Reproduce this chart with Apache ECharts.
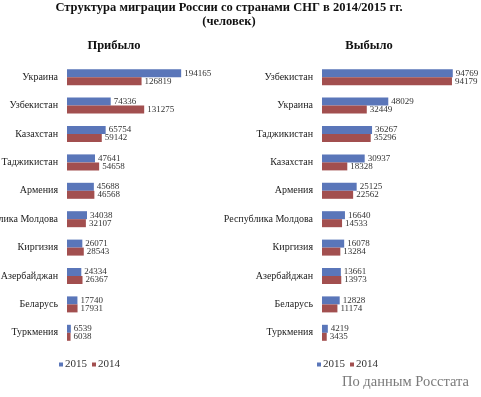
<!DOCTYPE html>
<html>
<head>
<meta charset="utf-8">
<script src="https://cdn.jsdelivr.net/npm/echarts@6/dist/echarts.min.js"></script>
<style>
  html, body { margin: 0; padding: 0; background: #fff; }
  #chart { width: 481px; height: 397px; }
</style>
</head>
<body>
<div id="chart"></div>
<script>
// Прибыло
const arrivedCountries = ["Украина", "Узбекистан", "Казахстан", "Таджикистан", "Армения",
  "Республика Молдова", "Киргизия", "Азербайджан", "Беларусь", "Туркмения"];
const arrived2015 = [194165, 74336, 65754, 47641, 45688, 34038, 26071, 24334, 17740, 6539];
const arrived2014 = [126819, 131275, 59142, 54658, 46568, 32107, 28543, 26367, 17931, 6038];

// Выбыло
const leftCountries = ["Узбекистан", "Украина", "Таджикистан", "Казахстан", "Армения",
  "Республика Молдова", "Киргизия", "Азербайджан", "Беларусь", "Туркмения"];
const left2015 = [94769, 48029, 36267, 30937, 25125, 16640, 16078, 13661, 12828, 4219];
const left2014 = [94179, 32449, 35296, 18328, 22562, 14533, 13284, 13973, 11174, 3435];

const years = ["2015", "2014"];
const colors = ["#5a76b9", "#a24f4f"];
const serif = "Liberation Serif";

const chart = echarts.init(document.getElementById("chart"));

const valueAxis = (idx, max) => ({
  type: "value", gridIndex: idx, min: 0, max: max, show: false
});
const catAxis = (idx, data) => ({
  type: "category", gridIndex: idx, data: data, inverse: true,
  axisLine: { show: false }, axisTick: { show: false },
  axisLabel: { fontFamily: serif, fontSize: 10, color: "#222", margin: 9 }
});
const barSeries = (name, idx, data, color) => ({
  name: name, type: "bar", xAxisIndex: idx, yAxisIndex: idx, data: data,
  barWidth: 8, barGap: "0%",
  itemStyle: { color: color },
  label: { show: true, position: "right", distance: 3,
    fontFamily: serif, fontSize: 9, color: "#333" }
});
const legendAt = (x) => ({
  data: years, left: x, top: 359, padding: 0, itemWidth: 4, itemHeight: 4, itemGap: 5,
  icon: "rect", textStyle: { fontFamily: serif, fontSize: 11, color: "#333", padding: [0, 0, 0, -3] }
});

chart.setOption({
  animation: false,
  color: colors,
  title: [
    { text: "Структура миграции России со странами СНГ в 2014/2015 гг.\n(человек)",
      left: 229, top: 1, padding: 0, textAlign: "center",
      textStyle: { fontFamily: serif, fontSize: 12.5, fontWeight: "bold", color: "#111", lineHeight: 14 } },
    { text: "Прибыло", left: 114, top: 39, padding: 0, textAlign: "center",
      textStyle: { fontFamily: serif, fontSize: 12.5, fontWeight: "bold", color: "#111" } },
    { text: "Выбыло", left: 369, top: 39, padding: 0, textAlign: "center",
      textStyle: { fontFamily: serif, fontSize: 12.5, fontWeight: "bold", color: "#111" } },
    { text: "По данным Росстата", left: 342, top: 375, padding: 0,
      textStyle: { fontFamily: serif, fontSize: 14.5, fontWeight: "normal", color: "#7a7a7a" } }
  ],
  legend: [legendAt(59), legendAt(317)],
  grid: [
    { left: 67, top: 63, width: 147, height: 284, outerBoundsMode: "none" },
    { left: 322, top: 63, width: 138, height: 284, outerBoundsMode: "none" }
  ],
  xAxis: [valueAxis(0, 250000), valueAxis(1, 100000)],
  yAxis: [catAxis(0, arrivedCountries), catAxis(1, leftCountries)],
  series: [
    barSeries(years[0], 0, arrived2015, colors[0]),
    barSeries(years[1], 0, arrived2014, colors[1]),
    barSeries(years[0], 1, left2015, colors[0]),
    barSeries(years[1], 1, left2014, colors[1])
  ]
});
</script>
</body>
</html>
